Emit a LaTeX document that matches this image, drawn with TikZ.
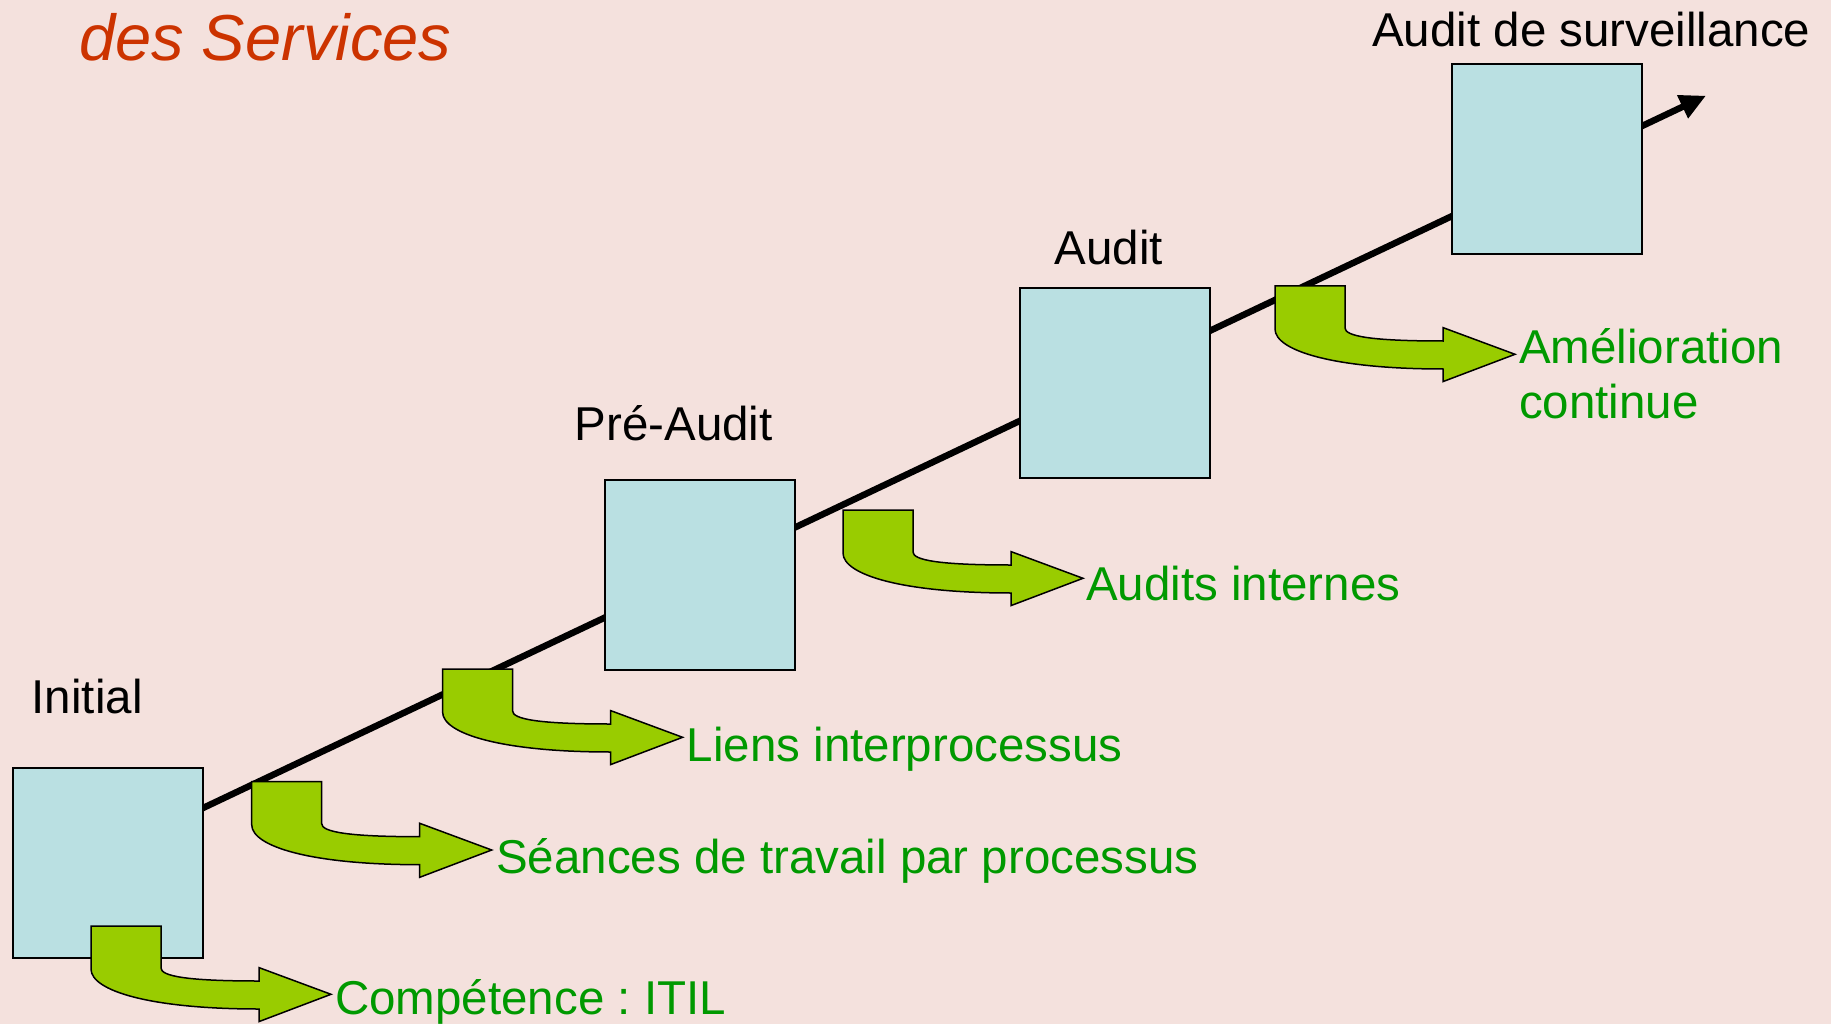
\documentclass[tikz,border=0pt]{standalone}
\usepackage{fontspec}
\setmainfont{Liberation Sans}
\usetikzlibrary{arrows.meta}
\definecolor{bg}{RGB}{244,225,221}
\definecolor{boxfill}{RGB}{186,224,226}
\definecolor{arrowgreen}{RGB}{153,204,0}
\definecolor{textgreen}{RGB}{0,153,0}
\definecolor{titlered}{RGB}{204,51,0}
\begin{document}
\frenchspacing
\begin{tikzpicture}[x=1pt,y=-1pt,
  stagebox/.style={draw=black, line width=2pt, fill=boxfill, minimum width=190pt, minimum height=190pt, inner sep=0pt, anchor=north west},
  stagelabel/.style={anchor=base west, inner sep=0pt, font=\fontsize{47.5}{55}\selectfont, text=black},
  steplabel/.style={anchor=base west, inner sep=0pt, font=\fontsize{47.5}{55}\selectfont, text=textgreen, align=left},
  bent/.style={draw=black, line width=1.5pt, fill=arrowgreen, line join=miter},
  bentarrow/.pic={\draw[bent] (0,0) -- (70,0) -- (70,42) .. controls (70,50) and (95,55) .. (168,55) -- (168,41.6) -- (240,68.3) -- (168,95.6) -- (168,83) .. controls (60,83) and (0,65) .. (0,43) -- cycle;},
  mainline/.style={line width=6.5pt, -{Triangle[length=26pt,width=24pt]}}
  ]
\fill[bg] (0,0) rectangle (1831,1024);
\useasboundingbox (0,0) rectangle (1831,1024);

% title
\node[anchor=base west, inner sep=0pt, font=\fontsize{65}{70}\selectfont\itshape, text=titlered] (title) at (79,60.7) {des Services};

% main line
\coordinate (start) at (107,853.5);
\coordinate (tip) at (1706,95.7);
\draw[mainline] (start) -- (tip);

% stage boxes
\node[stagebox] (initial) at (11.5,767) {};
\node[stagebox] (preaudit) at (603.5,478.5) {};
\node[stagebox] (audit) at (1019,287) {};
\node[stagebox] (surv) at (1451,63) {};

% stage labels
\node[stagelabel] (linitial) at (31.5,713) {Initial};
\node[stagelabel] (lpreaudit) at (574.5,440) {Pré-Audit};
\node[stagelabel] (laudit) at (1054.5,265) {Audit};
\node[stagelabel] (lsurv) at (1372,46.7) {Audit de surveillance};

% bent arrows
\pic at (91,926) {bentarrow};
\pic at (251.7,781.7) {bentarrow};
\pic at (442.6,669) {bentarrow};
\pic at (843,510) {bentarrow};
\pic at (1275,286) {bentarrow};

% step labels
\node[steplabel] (comp) at (335,1014) {Compétence : ITIL};
\node[steplabel] (seances) at (496,873.5) {Séances de travail par processus};
\node[steplabel] (liens) at (686.6,761) {Liens interprocessus};
\node[steplabel] (internes) at (1086,600) {Audits internes};
\node[steplabel] (amel) at (1519,418) {Amélioration\\continue};
\end{tikzpicture}
\end{document}
